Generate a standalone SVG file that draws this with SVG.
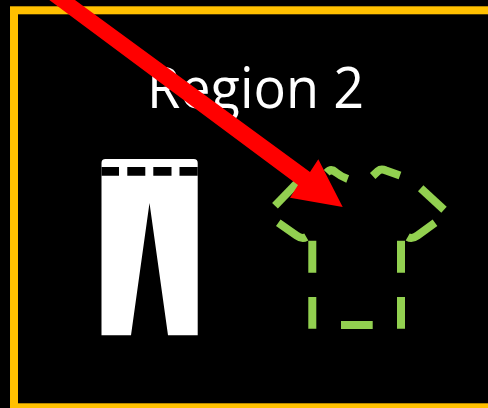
<svg xmlns="http://www.w3.org/2000/svg" width="488" height="408" viewBox="0 0 488 408">
<style>
.d{fill:none;stroke:#92d050;stroke-width:8}
.t{font-family:"Open Sans","Lato",sans-serif;font-size:56px;fill:#fff}
</style>
<rect width="488" height="408" fill="#000"/>
<rect id="frame" x="14" y="10.3" width="600" height="397" fill="none" stroke="#ffc000" stroke-width="8"/>
<g id="title"><text class="t" x="147" y="108" textLength="217" lengthAdjust="spacingAndGlyphs">Region 2</text></g>
<g id="pants">
<path fill="#fff" d="M101.5 335.3V163Q101.5 159 105.5 159H193.7Q197.7 159 197.7 163V335.3H168L149.5 203L131 335.3Z"/>
<path fill="#000" d="M101.5 167H119V175.7H101.5ZM127.3 167H145.3V175.7H127.3ZM153.3 167H171.5V175.7H153.3ZM179.5 167H197.7V175.7H179.5Z"/>
</g>
<g id="shirt">
<path class="d" d="M275 205.7L297 183"/>
<path class="d" d="M326.7 172.7Q331 168 336 172.5Q341 176.5 347.7 179"/>
<path class="d" d="M372.7 176L378 171Q381 168.5 386 170.5L400 175.5"/>
<path class="d" d="M420.7 188.3L444 209.7"/>
<path class="d" d="M435 222.7L417.5 235.5Q412 239.5 407.7 237"/>
<path class="d" d="M278.3 222.7L296.5 235.5Q302 239.5 306.3 237"/>
<path class="d" d="M312.3 240.7V272.7M312.3 297V328.7M401 240.7V272.7M401 297V328.7M341 325H372.7"/>
</g>
<g id="connectors">
<path fill="#f00" d="M49.3 0L75 0L310 172L318.3 159.3L342.7 207L290 197.7L298 185Z"/>
</g>
</svg>
